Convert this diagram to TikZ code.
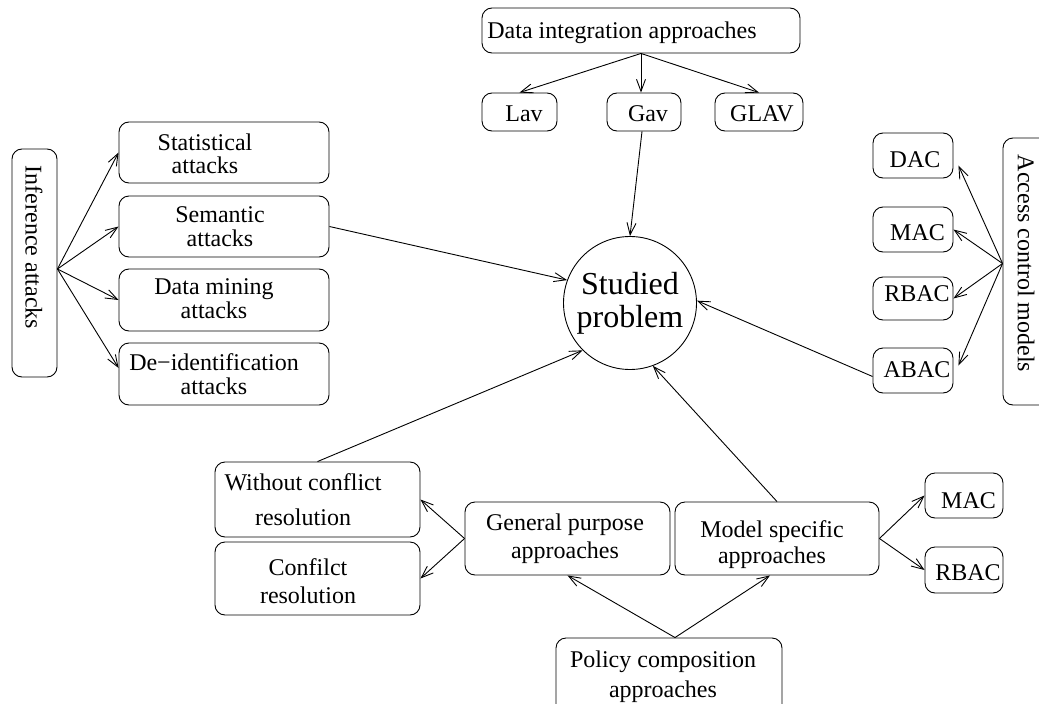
\documentclass[tikz,border=0pt]{standalone}
\usepackage{fontspec}
\setmainfont{Liberation Serif}
\usetikzlibrary{arrows.meta,calc}
\newcommand\mybox[5]{\node[bx,minimum width={#4-#2},minimum height={#5-#3}] (#1) at ({(#2+#4)/2},{(#3+#5)/2}) {};}
\begin{document}
\begin{tikzpicture}[x=1pt,y=-1pt,
 bx/.style={draw, rounded corners=10pt, line width=0.9pt, inner sep=0pt},
 txt/.style={font=\fontsize{24}{24}\selectfont, align=center, inner sep=0pt},
 conn/.style={line width=0.9pt, -{Straight Barb[length=12pt,width=9pt]}},
 plain/.style={line width=0.9pt}]
\clip (0,0) rectangle (1039,704);
\useasboundingbox (0,0) rectangle (1039,704);
% boxes
\mybox{inf}{12}{149}{57}{377}
\mybox{stat}{119}{122}{329}{183}
\mybox{sem}{119}{196}{329}{257}
\mybox{dm}{119}{269}{329}{331}
\mybox{deid}{119}{343}{329}{405}
\mybox{dia}{482}{8}{800}{53}
\mybox{lav}{482}{93}{557}{131}
\mybox{gav}{607}{93}{681}{131}
\mybox{glav}{715}{93}{803}{131}
\mybox{acm}{1003}{138}{1063}{405}
\mybox{dac}{873}{133}{953}{178}
\mybox{maca}{873}{207}{953}{252}
\mybox{rbaca}{873}{277}{953}{320}
\mybox{abac}{873}{348}{953}{393}
\mybox{wcr}{215}{462}{420}{537}
\mybox{cr}{215}{542}{420}{615}
\mybox{gpa}{465}{502}{670}{575}
\mybox{msa}{675}{502}{879}{575}
\mybox{macb}{925}{473}{1003}{518}
\mybox{rbacb}{925}{547}{1003}{593}
\mybox{pca}{556}{638}{782}{725}
\node[circle, draw, line width=0.9pt, minimum size=133pt, inner sep=0pt,
      font=\fontsize{32}{33}\selectfont, align=center] (sp) at (630,303) {Studied\\problem};
% texts
\node[txt, rotate=-90] (infT) at (34,247.5) {Inference attacks};
\node[txt, font=\fontsize{24}{23.3}\selectfont] (statT) at (205,153.5) {Statistical\\attacks};
\node[txt] (semT) at (220,227) {Semantic\\attacks};
\node[txt] (dmT) at (214,299) {Data mining\\attacks};
\node[txt] (deidT) at (214,374) {De−identification\\attacks};
\node[txt] (diaT) at (622,32.7) {Data integration approaches};
\node[txt] (lavT) at (524,113.7) {Lav};
\node[txt] (gavT) at (648,113.7) {Gav};
\node[txt] (glavT) at (762,113.7) {GLAV};
\node[txt, rotate=-90] (acmT) at (1026,263.5) {Access control models};
\node[txt] (dacT) at (915,160) {DAC};
\node[txt] (macaT) at (917.5,232.5) {MAC};
\node[txt] (rbacaT) at (917,294) {RBAC};
\node[txt] (abacT) at (917,370) {ABAC};
\node[txt, font=\fontsize{24}{35}\selectfont] (wcrT) at (303,499.3) {Without conflict\\resolution};
\node[txt, font=\fontsize{24}{28}\selectfont] (crT) at (308,580.8) {Confilct\\resolution};
\node[txt, font=\fontsize{24}{28}\selectfont] (gpaT) at (565,538.4) {General purpose\\approaches};
\node[txt, font=\fontsize{24}{26}\selectfont] (msaT) at (772,544.4) {Model specific\\approaches};
\node[txt] (macbT) at (968.5,500.5) {MAC};
\node[txt] (rbacbT) at (968,572.5) {RBAC};
\node[txt, font=\fontsize{24}{30}\selectfont] (pcaT) at (663,676.4) {Policy composition\\approaches};
% connectors
\coordinate (infO) at ($(inf.east)+(0,6)$);
\draw[conn] (infO) -- (stat.west);
\draw[conn] (infO) -- (sem.west);
\draw[conn] (infO) -- (dm.west);
\draw[conn] (infO) -- ($(deid.west)+(0,-6)$);
\draw[conn] (sem.east) -- (sp.160);
\draw[conn] (dia.south) -- (lav.north);
\draw[conn] (dia.south) -- (dia.south |- gav.north);
\draw[conn] (dia.south) -- (glav.north);
\draw[conn] ($(gav.south)+(-2,0)$) -- (sp.north);
\coordinate (acmO) at ($(acm.west)+(0,-8)$);
\draw[conn] (acmO) -- ($(dac.east)+(5,10)$);
\draw[conn] (acmO) -- (maca.east);
\draw[conn] (acmO) -- (rbaca.east);
\draw[conn] (acmO) -- ($(abac.east)+(5,-5)$);
\draw[conn] ($(abac.west)+(0,6)$) -- (sp.2);
\draw[conn] (gpa.west) -- (wcr.east);
\draw[conn] (gpa.west) -- (cr.east);
\draw[conn] (wcr.north) -- (sp.225);
\draw[conn] (msa.north) -- (sp.-70);
\draw[conn] (msa.east) -- (macb.west);
\draw[conn] (msa.east) -- (rbacb.west);
\coordinate (pcaO) at ($(pca.north)+(6,0)$);
\draw[conn] (pcaO) -- (gpa.south);
\draw[conn] (pcaO) -- ($(msa.south)+(-7,0)$);
\end{tikzpicture}
\end{document}
